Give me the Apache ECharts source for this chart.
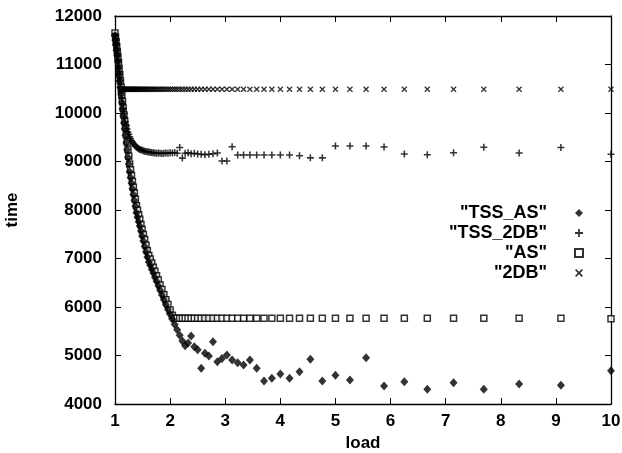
<!DOCTYPE html>
<html>
<head>
<meta charset="utf-8">
<script src="https://cdn.jsdelivr.net/npm/echarts@6/dist/echarts.min.js"></script>
<style>
  html, body { margin: 0; padding: 0; background: #fff; }
  #chart { width: 622px; height: 453px; }
</style>
</head>
<body>
<div id="chart"></div>
<script>
// load values on the x axis (same for every series)
var loads = [
  1.000, 1.010, 1.020, 1.031, 1.042, 1.053, 1.064, 1.075, 1.087, 1.099,
  1.111, 1.124, 1.136, 1.149, 1.163, 1.176, 1.190, 1.205, 1.220, 1.235,
  1.250, 1.266, 1.282, 1.299, 1.316, 1.333, 1.351, 1.370, 1.389, 1.408,
  1.429, 1.449, 1.471, 1.493, 1.515, 1.538, 1.563, 1.587, 1.613, 1.639,
  1.667, 1.695, 1.724, 1.754, 1.786, 1.818, 1.852, 1.887, 1.923, 1.961,
  2.000, 2.041, 2.083, 2.128, 2.174, 2.222, 2.273, 2.326, 2.381, 2.439,
  2.500, 2.564, 2.632, 2.703, 2.778, 2.857, 2.941, 3.030, 3.125, 3.226,
  3.333, 3.448, 3.571, 3.704, 3.846, 4.000, 4.167, 4.348, 4.545, 4.762,
  5.000, 5.263, 5.556, 5.882, 6.250, 6.667, 7.143, 7.692, 8.333, 9.091,
  10.000
];

var tssAS = [
  11600, 11500, 11400, 11290, 11180, 11060, 10930, 10800, 10660, 10520,
  10380, 10220, 10080, 9940, 9800, 9675, 9540, 9390, 9240, 9090,
  8950, 8790, 8670, 8555, 8440, 8320, 8200, 8075, 7945, 7850,
  7760, 7670, 7565, 7465, 7360, 7255, 7140, 7030, 6930, 6860,
  6780, 6700, 6615, 6530, 6440, 6345, 6250, 6150, 6045, 5950,
  5850, 5745, 5640, 5530, 5420, 5300, 5200, 5260, 5400, 5180,
  5120, 4735, 5045, 4990, 5285, 4873, 4940, 5010, 4907, 4852,
  4804, 4907, 4735, 4474, 4529, 4619, 4529, 4667, 4921, 4474,
  4591, 4495, 4955, 4371, 4460, 4302, 4440, 4302, 4412, 4385,
  4687
];

var tss2DB = [
  11600, 11500, 11400, 11290, 11180, 11060, 10930, 10800, 10670, 10540,
  10420, 10300, 10190, 10090, 9990, 9900, 9820, 9740, 9670, 9610,
  9560, 9510, 9470, 9430, 9400, 9370, 9345, 9320, 9300, 9280,
  9265, 9250, 9240, 9230, 9220, 9210, 9205, 9200, 9195, 9190,
  9185, 9180, 9175, 9170, 9175, 9170, 9165, 9170, 9175, 9170,
  9180, 9175, 9185, 9170, 9290, 9070, 9170, 9180, 9160, 9170,
  9155, 9150, 9140, 9150, 9160, 9175, 9010, 9010, 9305, 9135,
  9135, 9135, 9135, 9135, 9135, 9135, 9135, 9120, 9075, 9075,
  9320, 9320, 9320, 9300, 9155, 9140, 9180, 9295, 9175, 9290,
  9150
];

var as = [
  11650, 11560, 11470, 11370, 11270, 11160, 11040, 10920, 10790, 10660,
  10530, 10380, 10240, 10100, 9960, 9830, 9700, 9550, 9400, 9250,
  9110, 8950, 8830, 8710, 8590, 8470, 8350, 8220, 8090, 7995,
  7900, 7810, 7700, 7600, 7495, 7390, 7275, 7160, 7060, 6990,
  6905, 6820, 6735, 6645, 6555, 6455, 6360, 6255, 6150, 6050,
  5940, 5830, 5770, 5770, 5770, 5770, 5770, 5770, 5770, 5770,
  5770, 5770, 5770, 5770, 5770, 5770, 5770, 5770, 5770, 5770,
  5770, 5770, 5770, 5770, 5770, 5770, 5770, 5770, 5770, 5770,
  5770, 5770, 5770, 5770, 5770, 5770, 5770, 5770, 5770, 5770,
  5760
];

var db2 = [
  11600, 11500, 11400, 11290, 11180, 11060, 10930, 10800, 10660, 10490,
  10490, 10490, 10490, 10490, 10490, 10490, 10490, 10490, 10490, 10490,
  10490, 10490, 10490, 10490, 10490, 10490, 10490, 10490, 10490, 10490,
  10490, 10490, 10490, 10490, 10490, 10490, 10490, 10490, 10490, 10490,
  10490, 10490, 10490, 10490, 10490, 10490, 10490, 10490, 10490, 10490,
  10490, 10490, 10490, 10490, 10490, 10490, 10490, 10490, 10490, 10490,
  10490, 10490, 10490, 10490, 10490, 10490, 10490, 10490, 10490, 10490,
  10490, 10490, 10490, 10490, 10490, 10490, 10490, 10490, 10490, 10490,
  10490, 10490, 10490, 10490, 10490, 10490, 10490, 10490, 10490, 10490,
  10490
];

var names = ['"TSS_AS"', '"TSS_2DB"', '"AS"', '"2DB"'];
var xTicks = { min: 1, max: 10, interval: 1 };
var yTicks = { min: 4000, max: 12000, interval: 1000 };

function pairs(vals) {
  return loads.map(function (x, i) { return [x, vals[i]]; });
}

var font = 'Liberation Sans, Arial, sans-serif';
var plusPath = 'path://M3.9,0H6.1V3.9H10V6.1H6.1V10H3.9V6.1H0V3.9H3.9Z';
var crossPath = 'path://M0,1.5L1.5,0L5,3.5L8.5,0L10,1.5L6.5,5L10,8.5L8.5,10L5,6.5L1.5,10L0,8.5L3.5,5Z';

var myChart = echarts.init(document.getElementById('chart'));

var tickStyle = { show: true, inside: true, length: 6, lineStyle: { color: '#000', width: 1 } };
var lineStyle = { show: true, lineStyle: { color: '#000', width: 1.3 } };
var labelFont = { color: '#000', fontSize: 17, fontWeight: 'bold', fontFamily: font };

var option = {
  animation: false,
  backgroundColor: '#fff',
  grid: { left: 115, right: 11, top: 16, bottom: 49, outerBoundsMode: 'none' },
  legend: {
    data: names,
    orient: 'vertical',
    align: 'right',
    right: 38,
    top: 203,
    padding: 0,
    itemGap: 0,
    itemWidth: 8,
    itemHeight: 8,
    selectedMode: false,
    textStyle: { color: '#000', fontSize: 18, fontWeight: 'bold', fontFamily: font, lineHeight: 20, padding: [0, 23, 0, 0] }
  },
  xAxis: [
    {
      type: 'value', min: xTicks.min, max: xTicks.max, interval: xTicks.interval,
      name: 'load', nameLocation: 'middle', nameGap: 26,
      nameTextStyle: labelFont,
      axisLine: lineStyle, axisTick: tickStyle, splitLine: { show: false },
      axisLabel: Object.assign({ margin: 9 }, labelFont)
    },
    {
      type: 'value', position: 'top', min: xTicks.min, max: xTicks.max, interval: xTicks.interval,
      axisLine: lineStyle, axisTick: tickStyle, splitLine: { show: false },
      axisLabel: { show: false }
    }
  ],
  yAxis: [
    {
      type: 'value', min: yTicks.min, max: yTicks.max, interval: yTicks.interval,
      name: 'time', nameLocation: 'middle', nameGap: 94,
      nameTextStyle: labelFont,
      axisLine: lineStyle, axisTick: tickStyle, splitLine: { show: false },
      axisLabel: Object.assign({ margin: 13, formatter: function (v) { return String(v); } }, labelFont)
    },
    {
      type: 'value', position: 'right', min: yTicks.min, max: yTicks.max, interval: yTicks.interval,
      axisLine: lineStyle, axisTick: tickStyle, splitLine: { show: false },
      axisLabel: { show: false }
    }
  ],
  series: [
    {
      name: names[0], type: 'scatter', z: 4,
      symbol: 'diamond', symbolSize: [8, 9],
      itemStyle: { color: '#000' },
      emphasis: { disabled: true },
      data: pairs(tssAS)
    },
    {
      name: names[1], type: 'scatter', z: 3,
      symbol: plusPath, symbolSize: 7,
      itemStyle: { color: '#000' },
      emphasis: { disabled: true },
      data: pairs(tss2DB)
    },
    {
      name: names[2], type: 'scatter', z: 2,
      symbol: 'rect', symbolSize: 6,
      itemStyle: { color: '#fff', borderColor: '#000', borderWidth: 1.5 },
      emphasis: { disabled: true },
      data: pairs(as)
    },
    {
      name: names[3], type: 'scatter', z: 3,
      symbol: crossPath, symbolSize: 6,
      itemStyle: { color: '#000' },
      emphasis: { disabled: true },
      data: pairs(db2)
    }
  ]
};

myChart.setOption(option);
</script>
</body>
</html>
